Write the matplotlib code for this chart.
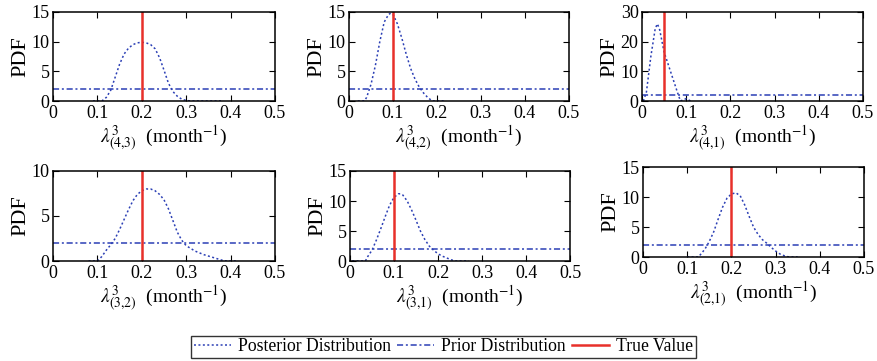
import matplotlib
matplotlib.use('Agg')
import matplotlib.pyplot as plt
from matplotlib.lines import Line2D

plt.rcParams['font.family'] = ['Liberation Serif', 'DejaVu Serif']
plt.rcParams['mathtext.fontset'] = 'stix'

# posterior curves
x1 = [0.09, 0.11, 0.12, 0.13, 0.14, 0.15, 0.16, 0.17, 0.18, 0.19, 0.20, 0.21, 0.22, 0.23, 0.24, 0.25, 0.26, 0.27, 0.28, 0.29, 0.30, 0.31, 0.38]
y1 = [0, 0, 0.6, 1.8, 4.0, 6.2, 7.9, 8.9, 9.5, 9.8, 9.9, 9.8, 9.5, 8.8, 7.3, 5.2, 3.0, 1.6, 0.8, 0.3, 0.1, 0, 0]

x2 = [0.02, 0.035, 0.04, 0.05, 0.06, 0.07, 0.08, 0.09, 0.095, 0.10, 0.11, 0.12, 0.13, 0.14, 0.15, 0.16, 0.17, 0.18, 0.19, 0.22]
y2 = [0, 0, 0.6, 2.8, 6.0, 10.0, 13.3, 14.6, 14.8, 14.6, 13.0, 10.6, 7.9, 5.5, 3.7, 2.3, 1.3, 0.5, 0, 0]

x3 = [0.003, 0.01, 0.02, 0.03, 0.035, 0.04, 0.05, 0.06, 0.07, 0.08, 0.087, 0.095, 0.1, 0.105, 0.11]
y3 = [0, 3, 15, 24.5, 26, 24, 16.5, 12, 7.5, 3, 0, 0.5, 0.8, 0.4, 0]

x4 = [0.08, 0.10, 0.11, 0.12, 0.13, 0.14, 0.15, 0.16, 0.17, 0.18, 0.19, 0.20, 0.21, 0.22, 0.23, 0.24, 0.25, 0.26, 0.27, 0.28, 0.29, 0.30, 0.32, 0.34, 0.36, 0.38, 0.39, 0.415]
y4 = [0, 0, 0.5, 1.2, 1.8, 2.5, 3.5, 4.6, 5.7, 6.7, 7.4, 7.8, 8.0, 8.0, 7.8, 7.4, 6.8, 5.8, 4.5, 3.2, 2.3, 1.7, 1.1, 0.7, 0.4, 0.1, 0, 0]

x5 = [0.005, 0.035, 0.04, 0.05, 0.06, 0.07, 0.08, 0.09, 0.10, 0.11, 0.115, 0.12, 0.13, 0.14, 0.15, 0.16, 0.17, 0.18, 0.19, 0.20, 0.21, 0.22, 0.23, 0.24, 0.27]
y5 = [0, 0, 0.7, 1.8, 3.5, 5.4, 7.4, 9.3, 10.6, 11.2, 11.2, 11.0, 10.0, 8.5, 6.8, 5.0, 3.6, 2.5, 1.8, 1.2, 0.8, 0.5, 0.2, 0, 0]

x6 = [0.10, 0.125, 0.13, 0.14, 0.15, 0.16, 0.17, 0.18, 0.19, 0.20, 0.21, 0.22, 0.23, 0.24, 0.25, 0.26, 0.27, 0.28, 0.29, 0.30, 0.31, 0.32, 0.33, 0.35]
y6 = [0, 0, 0.4, 1.3, 2.6, 4.2, 6.3, 8.3, 9.8, 10.5, 10.7, 10.2, 8.7, 6.8, 5.0, 3.8, 2.9, 2.3, 1.6, 1.0, 0.5, 0.2, 0, 0]

post_x = [x1, x2, x3, x4, x5, x6]
post_y = [y1, y2, y3, y4, y5, y6]
true_vals = [0.2, 0.1, 0.05, 0.2, 0.1, 0.2]
prior_level = 2.0
ymax = [15, 15, 30, 10, 15, 15]
ystep = [5, 5, 10, 5, 5, 5]
subs = ['(4{,}3)', '(4{,}2)', '(4{,}1)', '(3{,}2)', '(3{,}1)', '(2{,}1)']
xticks = [0, 0.1, 0.2, 0.3, 0.4, 0.5]
xticklabels = ['0', '0.1', '0.2', '0.3', '0.4', '0.5']

W, H = 877, 361
# axes boxes in pixels: left, top, right, bottom
boxes = [(53, 12, 275, 101), (349, 12, 569, 101), (642, 12, 863, 101),
         (53, 171, 275, 261), (350, 171, 570, 261), (643, 167, 864, 257)]

blue = '#2b3fb5'
red = '#e8302a'

fig = plt.figure(figsize=(W / 100, H / 100), dpi=100)

for i in range(6):
    l, t, r, b = boxes[i]
    ax = fig.add_axes([l / W, 1 - b / H, (r - l) / W, (b - t) / H])
    ax.plot(post_x[i], post_y[i], color=blue, lw=1.1, dashes=(1.3, 1.6))
    ax.plot([0, 0.5], [prior_level, prior_level], color=blue, lw=1.1,
            dashes=(4, 1.8, 1.3, 1.8))
    ax.axvline(true_vals[i], color=red, lw=1.8)
    ax.set_xlim(0, 0.5)
    ax.set_ylim(0, ymax[i])
    ax.set_xticks(xticks)
    ax.set_xticklabels(xticklabels)
    ax.set_yticks(range(0, ymax[i] + 1, ystep[i]))
    ax.tick_params(direction='in', top=True, right=True, length=4, width=0.8,
                   labelsize=13)
    ax.tick_params(axis='x', pad=3)
    ax.tick_params(axis='y', pad=2.5)
    for s in ax.spines.values():
        s.set_linewidth(1.1)
    ax.set_ylabel('PDF', fontsize=16, labelpad=1)
    ax.set_xlabel(r'$\lambda^{3}_{' + subs[i] + r'}$  (month$^{-1}$)', fontsize=14, labelpad=1)

handles = [Line2D([], [], color=blue, lw=1.1, dashes=(1.3, 1.6)),
           Line2D([], [], color=blue, lw=1.1, dashes=(4, 1.8, 1.3, 1.8)),
           Line2D([], [], ls='-', color=red, lw=1.8)]
leg = fig.legend(handles, ['Posterior Distribution', 'Prior Distribution', 'True Value'],
                 loc='lower center', bbox_to_anchor=(0.506, 3 / H), ncol=3, fontsize=12.7,
                 frameon=True, fancybox=False, edgecolor='black', handlelength=2.1,
                 handletextpad=0.4, columnspacing=0.35, borderpad=0.15, borderaxespad=0.0)
leg.get_frame().set_linewidth(1.0)

fig.savefig('out.png', dpi=100)
